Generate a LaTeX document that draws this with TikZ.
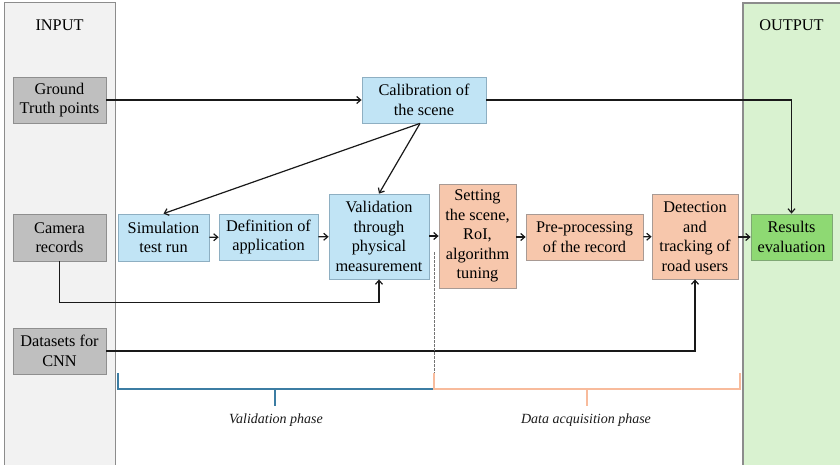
\documentclass[tikz,border=0pt]{standalone}
\usepackage{fontspec}
\setmainfont{Liberation Serif}
\usetikzlibrary{arrows.meta,calc}
\definecolor{inpanel}{HTML}{F2F2F2}
\definecolor{panelborder}{HTML}{8C8C8C}
\definecolor{outpanel}{HTML}{D9F2D0}
\definecolor{grayfill}{HTML}{BFBFBF}
\definecolor{grayline}{HTML}{8F8F8F}
\definecolor{bluefill}{HTML}{C1E4F5}
\definecolor{blueline}{HTML}{8EAFC2}
\definecolor{orfill}{HTML}{F7C7AC}
\definecolor{orline}{HTML}{A89A94}
\definecolor{grfill}{HTML}{8ED973}
\definecolor{grline}{HTML}{7FA874}
\definecolor{bracketblue}{HTML}{3C7DA3}
\definecolor{bracketor}{HTML}{F8BB9C}
\begin{document}
\begin{tikzpicture}[x=1pt,y=-1pt,
  txt/.style={font=\fontsize{16.3}{19.5}\selectfont, align=center, inner sep=0pt, text=black},
  box/.style={txt, draw, line width=0.8pt, minimum width=#1},
  graybox/.style={box=93pt, fill=grayfill, draw=grayline},
  bluebox/.style={box=#1, fill=bluefill, draw=blueline},
  orbox/.style={box=#1, fill=orfill, draw=orline},
  conn/.style={line width=1.2pt, draw=black!90, -{Straight Barb[length=4pt,width=7pt]}},
  phase/.style={font=\fontsize{14}{16}\selectfont\itshape, text=black!90},
  brk/.style={line width=1.3pt}
]
\useasboundingbox (0,0) rectangle (840,465);
% panels
\fill[inpanel] (4,3) rectangle (115,470);
\draw[panelborder, line width=1pt] (4,470) -- (4,3) -- (115,3) -- (115,470);
\fill[outpanel] (743,3) rectangle (845,470);
\draw[panelborder, line width=1.2pt] (743,470) -- (743,3) -- (845,3);
\node[txt] (inlabel) at (59.5,25) {INPUT};
\node[txt] (outlabel) at (791.5,25) {OUTPUT};

% input boxes
\node[graybox, minimum height=46pt] (gt) at (59.5,100) {Ground\\Truth points};
\node[graybox, minimum height=47pt] (cam) at (59.5,237.5) {Camera\\records};
\node[graybox, minimum height=46pt] (ds) at (59.5,351) {Datasets for\\CNN};

% process boxes
\node[bluebox=124pt, minimum height=46pt] (cal) at (424,100) {Calibration of\\the scene};
\node[bluebox=91pt, minimum height=47pt] (sim) at (163.5,237.5) {Simulation\\test run};
\node[bluebox=99pt, minimum height=46pt] (def) at (268.5,237) {Definition of\\application};
\node[bluebox=100pt, minimum height=85pt] (val) at (379,236.5) {Validation\\through\\physical\\measurement};
\node[orbox=77pt, minimum height=104pt] (set) at (477.5,236) {Setting\\the scene,\\RoI,\\algorithm\\tuning};
\node[orbox=117pt, minimum height=46pt] (pre) at (584.5,237) {Pre-processing\\of the record};
\node[orbox=86pt, minimum height=85pt] (det) at (695,236.5) {Detection\\and\\tracking of\\road users};
\node[box=81pt, minimum height=46pt, fill=grfill, draw=grline] (res) at (791.5,237) {Results\\evaluation};

% connectors
\draw[conn] (gt.east) -- (cal.west);
\draw[conn] (cal.east) -| (res.north);
\draw[conn] ($(cal.south)+(-4,0)$) -- (sim.north);
\draw[conn] ($(cal.south)+(-4,0)$) -- (val.north);
\draw[conn] (sim) -- (def);
\draw[conn] (def) -- (val);
\draw[conn] (val.east |- set) -- (set.west);
\draw[conn] (set.east |- pre) -- (pre.west);
\draw[conn] (pre) -- (det);
\draw[conn] (det.east |- res) -- (res.west);
\draw[conn] (cam.south) -- ++(0,41) -| (val.south);
\draw[conn] (ds.east) -| (det.south);

% phase separator
\coordinate (sepTop) at (434,252);
\coordinate (sepBot) at (434,373);
\draw[dashed, black!55, line width=0.8pt, dash pattern=on 2.5pt off 1.5pt] (sepTop) -- (sepBot);

% brackets
\draw[brk, bracketblue] (118,373) -- (118,389) -- (434,389);
\draw[brk, bracketblue] (275,389) -- (275,406);
\draw[brk, bracketor] (434,373) -- (434,389) -- (740,389) -- (740,373);
\draw[brk, bracketor] (587,389) -- (587,406);
\node[phase] (vphase) at (276,420) {Validation phase};
\node[phase] (dphase) at (586,420) {Data acquisition phase};
\end{tikzpicture}
\end{document}
